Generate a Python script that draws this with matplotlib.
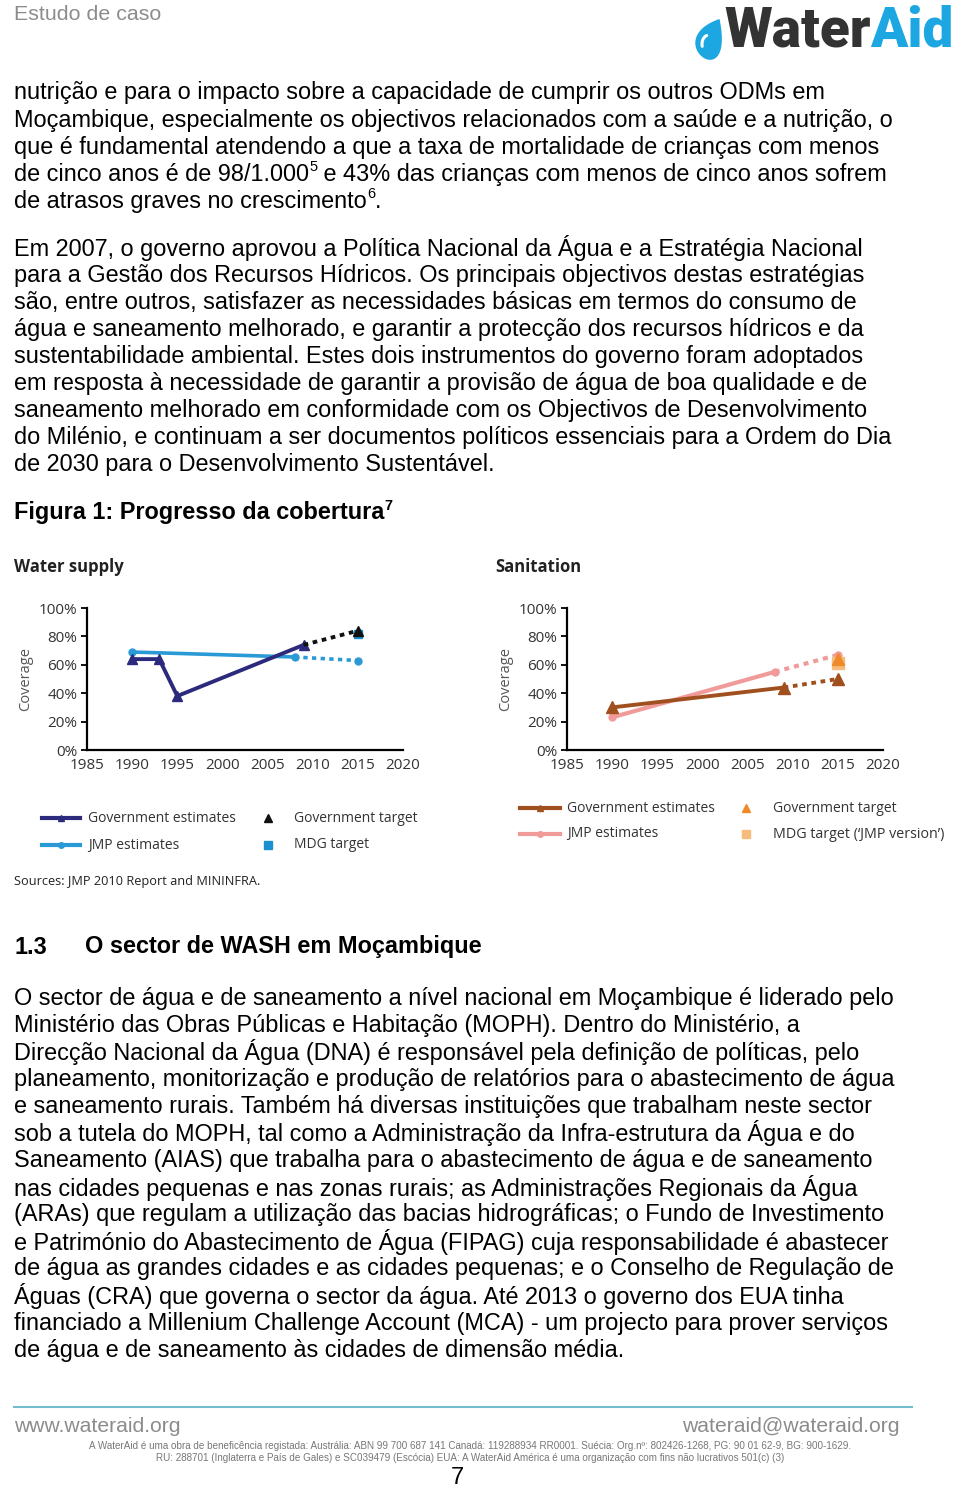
import numpy as np
import matplotlib
matplotlib.use("Agg")
import matplotlib.pyplot as plt
from matplotlib.patches import Polygon
from matplotlib.lines import Line2D

# ---------------- data ----------------
years_ticks = [1985, 1990, 1995, 2000, 2005, 2010, 2015, 2020]
pct_ticks = [0, 20, 40, 60, 80, 100]
pct_labels = ["0%", "20%", "40%", "60%", "80%", "100%"]

# Water supply
ws_gov_years = [1990, 1993, 1995, 2009]
ws_gov_vals = [64, 64, 38, 74]
ws_gov_proj_years = [2009, 2015]
ws_gov_proj_vals = [74, 84]
ws_jmp_years = [1990, 2008]
ws_jmp_vals = [69, 65.5]
ws_jmp_proj_years = [2008, 2015]
ws_jmp_proj_vals = [65.5, 63]
ws_gov_target = (2015, 84)
ws_mdg_target = (2015, 82)

# Sanitation
san_gov_years = [1990, 2009]
san_gov_vals = [30, 44]
san_gov_proj_years = [2009, 2015]
san_gov_proj_vals = [44, 50]
san_jmp_years = [1990, 2008]
san_jmp_vals = [23, 55]
san_jmp_proj_years = [2008, 2015]
san_jmp_proj_vals = [55, 67]
san_gov_target = (2015, 64)
san_mdg_target = (2015, 61)

# ---------------- text ----------------
para1 = [
    "nutrição e para o impacto sobre a capacidade de cumprir os outros ODMs em",
    "Moçambique, especialmente os objectivos relacionados com a saúde e a nutrição, o",
    "que é fundamental atendendo a que a taxa de mortalidade de crianças com menos",
    [("de cinco anos é de 98/1.000", 0), ("5", 1), (" e 43% das crianças com menos de cinco anos sofrem", 0)],
    [("de atrasos graves no crescimento", 0), ("6", 1), (".", 0)],
]
para2 = [
    "Em 2007, o governo aprovou a Política Nacional da Água e a Estratégia Nacional",
    "para a Gestão dos Recursos Hídricos. Os principais objectivos destas estratégias",
    "são, entre outros, satisfazer as necessidades básicas em termos do consumo de",
    "água e saneamento melhorado, e garantir a protecção dos recursos hídricos e da",
    "sustentabilidade ambiental. Estes dois instrumentos do governo foram adoptados",
    "em resposta à necessidade de garantir a provisão de água de boa qualidade e de",
    "saneamento melhorado em conformidade com os Objectivos de Desenvolvimento",
    "do Milénio, e continuam a ser documentos políticos essenciais para a Ordem do Dia",
    "de 2030 para o Desenvolvimento Sustentável.",
]
para3 = [
    "O sector de água e de saneamento a nível nacional em Moçambique é liderado pelo",
    "Ministério das Obras Públicas e Habitação (MOPH). Dentro do Ministério, a",
    "Direcção Nacional da Água (DNA) é responsável pela definição de políticas, pelo",
    "planeamento, monitorização e produção de relatórios para o abastecimento de água",
    "e saneamento rurais. Também há diversas instituições que trabalham neste sector",
    "sob a tutela do MOPH, tal como a Administração da Infra-estrutura da Água e do",
    "Saneamento (AIAS) que trabalha para o abastecimento de água e de saneamento",
    "nas cidades pequenas e nas zonas rurais; as Administrações Regionais da Água",
    "(ARAs) que regulam a utilização das bacias hidrográficas; o Fundo de Investimento",
    "e Património do Abastecimento de Água (FIPAG) cuja responsabilidade é abastecer",
    "de água as grandes cidades e as cidades pequenas; e o Conselho de Regulação de",
    "Águas (CRA) que governa o sector da água. Até 2013 o governo dos EUA tinha",
    "financiado a Millenium Challenge Account (MCA) - um projecto para prover serviços",
    "de água e de saneamento às cidades de dimensão média.",
]
footer1 = ("A WaterAid é uma obra de beneficência registada: Austrália: ABN 99 700 687 141 Canadá: "
           "119288934 RR0001. Suécia: Org.nº: 802426-1268, PG: 90 01 62-9, BG: 900-1629.")
footer2 = ("RU: 288701 (Inglaterra e País de Gales) e SC039479 (Escócia) EUA: A WaterAid América é "
           "uma organização com fins não lucrativos 501(c) (3)")

W, H = 960, 1488
fig = plt.figure(figsize=(W / 100, H / 100), dpi=100)
page = fig.add_axes([0, 0, 1, 1])
page.set_xlim(0, W)
page.set_ylim(H, 0)
page.axis("off")
renderer = fig.canvas.get_renderer()

BODY = "Liberation Sans"
BSIZE = 16.9
TXT = "#000000"
YOFF = 2


def runs(x, y, parts, size=BSIZE, weight="normal", family=BODY, color=TXT):
    cx = x
    for txt, sup in parts:
        if sup:
            t = page.text(cx, y - 7, txt, fontsize=size * 0.62, family=family,
                          weight=weight, color=color, va="center", ha="left")
        else:
            t = page.text(cx, y, txt, fontsize=size, family=family,
                          weight=weight, color=color, va="center", ha="left")
        bb = t.get_window_extent(renderer)
        cx = bb.x1


def line(x, y, item, **kw):
    if isinstance(item, str):
        runs(x, y, [(item, 0)], **kw)
    else:
        runs(x, y, item, **kw)


# header
page.text(14, 15, "Estudo de caso", fontsize=15.4, family=BODY, color="#8c8c8c",
          va="center", ha="left")
# logo text
t = page.text(724, 31, "Water", fontsize=39.5, family="Roboto", weight="black",
              color="#333333", va="center", ha="left")
bb = t.get_window_extent(renderer)
page.text(bb.x1, 31, "Aid", fontsize=39.5, family="Roboto", weight="black",
          color="#1ca7e2", va="center", ha="left")
# drop
tt = np.linspace(0, 2 * np.pi, 160)
dx = np.sin(tt) * np.sin(tt / 2)
dy = np.cos(tt)
ang = np.deg2rad(-30)
rx = dx * np.cos(ang) - dy * np.sin(ang)
ry = dx * np.sin(ang) + dy * np.cos(ang)
page.add_patch(Polygon(np.c_[711 + 17 * rx, 38 - 22 * ry], closed=True,
                       facecolor="#1ca7e2", edgecolor="none"))
aa = np.linspace(1.9, 3.4, 20)
hx = 709 + 7 * np.cos(aa)
hy = 44 - 9 * np.sin(aa)
page.plot(hx, hy, color="white", lw=2.2, solid_capstyle="round")

# paragraphs
y0 = 91 + YOFF
for i, it in enumerate(para1):
    line(14, y0 + i * 27.1, it)
y0 = 246 + YOFF
for i, it in enumerate(para2):
    line(14, y0 + i * 27.1, it)
runs(14, 511 + YOFF, [("Figura 1: Progresso da cobertura", 0), ("7", 1)], weight="bold")
page.text(14, 945 + YOFF, "1.3", fontsize=BSIZE, family=BODY, weight="bold", va="center")
page.text(85, 945 + YOFF, "O sector de WASH em Moçambique", fontsize=BSIZE, family=BODY,
          weight="bold", va="center")
y0 = 996 + YOFF
for i, it in enumerate(para3):
    line(14, y0 + i * 27.1, it)

# footer
page.plot([14, 912], [1407, 1407], color="#74bccb", lw=1.5)
page.text(14, 1426, "www.wateraid.org", fontsize=15.2, family=BODY, color="#8c8c8c",
          va="center", ha="left")
page.text(900, 1426, "wateraid@wateraid.org", fontsize=15.2, family=BODY, color="#8c8c8c",
          va="center", ha="right")
page.text(470, 1446, footer1, fontsize=7.1, family=BODY, color="#777777", va="center", ha="center")
page.text(470, 1458, footer2, fontsize=7.1, family=BODY, color="#777777", va="center", ha="center")
page.text(457, 1478, "7", fontsize=17, family=BODY, color="#000000", va="center", ha="center")

# ---------------- charts ----------------
CF = "Open Sans"
TICKC = "#333333"


def make_axes(left_px):
    ax = fig.add_axes([left_px / W, 1 - 750 / H, 316 / W, 142 / H])
    ax.set_xlim(1985, 2020)
    ax.set_ylim(0, 100)
    ax.set_xticks(years_ticks)
    ax.set_yticks(pct_ticks)
    ax.set_yticklabels(pct_labels)
    for s in ["top", "right"]:
        ax.spines[s].set_visible(False)
    for s in ["left", "bottom"]:
        ax.spines[s].set_linewidth(1.6)
        ax.spines[s].set_color("black")
    ax.tick_params(axis="y", direction="out", length=4, width=1.3, pad=3,
                   labelsize=11, labelcolor=TICKC)
    ax.tick_params(axis="x", length=0, pad=6, labelsize=11, labelcolor=TICKC)
    for lab in ax.get_xticklabels() + ax.get_yticklabels():
        lab.set_family(CF)
    ax.set_ylabel("Coverage", family=CF, fontsize=10.5, color="#555555", labelpad=4)
    ax.patch.set_alpha(0)
    return ax


# Water supply
NAVY = "#2b2a7c"
LBLUE = "#2a9ad6"
ax1 = make_axes(87)
ax1.plot(ws_jmp_years, ws_jmp_vals, color=LBLUE, lw=2.6, marker="o", ms=5, clip_on=False)
ax1.plot(ws_jmp_proj_years, ws_jmp_proj_vals, color=LBLUE, lw=2.6, ls=(0, (1.2, 1.2)),
         marker="o", ms=5, markevery=[1], clip_on=False)
ax1.plot(ws_gov_years, ws_gov_vals, color=NAVY, lw=2.8, marker="^", ms=7, clip_on=False)
ax1.plot(ws_gov_proj_years, ws_gov_proj_vals, color="#111111", lw=2.8, ls=(0, (1.2, 1.2)),
         clip_on=False)
ax1.plot([ws_mdg_target[0]], [ws_mdg_target[1]], marker="s", ms=6, color="#1b8fd2", ls="none",
         clip_on=False)
ax1.plot([ws_gov_target[0]], [ws_gov_target[1]], marker="^", ms=7, color="#111111", ls="none",
         clip_on=False)

# Sanitation
BROWN = "#a0501f"
PINK = "#f19a9a"
ax2 = make_axes(567)
ax2.plot(san_jmp_years, san_jmp_vals, color=PINK, lw=3, marker="o", ms=5, clip_on=False)
ax2.plot(san_jmp_proj_years, san_jmp_proj_vals, color=PINK, lw=3, ls=(0, (1.2, 1.2)),
         marker="o", ms=5, markevery=[1], clip_on=False)
ax2.plot(san_gov_years, san_gov_vals, color=BROWN, lw=2.8, marker="^", ms=8, clip_on=False)
ax2.plot(san_gov_proj_years, san_gov_proj_vals, color=BROWN, lw=2.8, ls=(0, (1.2, 1.2)),
         marker="^", ms=8, markevery=[1], clip_on=False)
ax2.plot([san_mdg_target[0]], [san_mdg_target[1]], marker="s", ms=9, color="#f7bb7c", ls="none",
         clip_on=False)
ax2.plot([san_gov_target[0]], [san_gov_target[1]], marker="^", ms=9, color="#ef8a2a", ls="none",
         clip_on=False)

# chart titles
page.text(14, 567, "Water supply", fontsize=12, family=CF, weight="bold", color="#222222",
          va="center", ha="left")
page.text(495, 567, "Sanitation", fontsize=12, family=CF, weight="bold", color="#222222",
          va="center", ha="left")

# legends (drawn manually)
LEGC = "#333333"
LS = 10


def leg_line(x0, x1, y, color, marker, lw=3):
    page.add_line(Line2D([x0, x1], [y, y], color=color, lw=lw))
    page.add_line(Line2D([(x0 + x1) / 2], [y], color=color, marker=marker, ms=4, ls="none"))


leg_line(42, 80, 818, NAVY, "^")
page.text(88, 818, "Government estimates", fontsize=LS, family=CF, color=LEGC, va="center")
page.add_line(Line2D([268], [818], marker="^", ms=6, color="#111111", ls="none"))
page.text(294, 818, "Government target", fontsize=LS, family=CF, color=LEGC, va="center")
leg_line(42, 80, 845, LBLUE, "o")
page.text(88, 845, "JMP estimates", fontsize=LS, family=CF, color=LEGC, va="center")
page.add_line(Line2D([268], [845], marker="s", ms=6, color="#1b8fd2", ls="none"))
page.text(294, 845, "MDG target", fontsize=LS, family=CF, color=LEGC, va="center")
page.text(14, 882, "Sources: JMP 2010 Report and MININFRA.", fontsize=9.2, family=CF,
          color="#222222", va="center")

leg_line(520, 560, 808, BROWN, "^")
page.text(567, 808, "Government estimates", fontsize=LS, family=CF, color=LEGC, va="center")
page.add_line(Line2D([746], [808], marker="^", ms=6, color="#ef8a2a", ls="none"))
page.text(773, 808, "Government target", fontsize=LS, family=CF, color=LEGC, va="center")
leg_line(520, 560, 834, PINK, "o")
page.text(567, 834, "JMP estimates", fontsize=LS, family=CF, color=LEGC, va="center")
page.add_line(Line2D([746], [834], marker="s", ms=6, color="#f7bb7c", ls="none"))
page.text(773, 834, "MDG target (‘JMP version’)", fontsize=10.3, family=CF, color=LEGC,
          va="center")

fig.savefig("out.png", dpi=100)
